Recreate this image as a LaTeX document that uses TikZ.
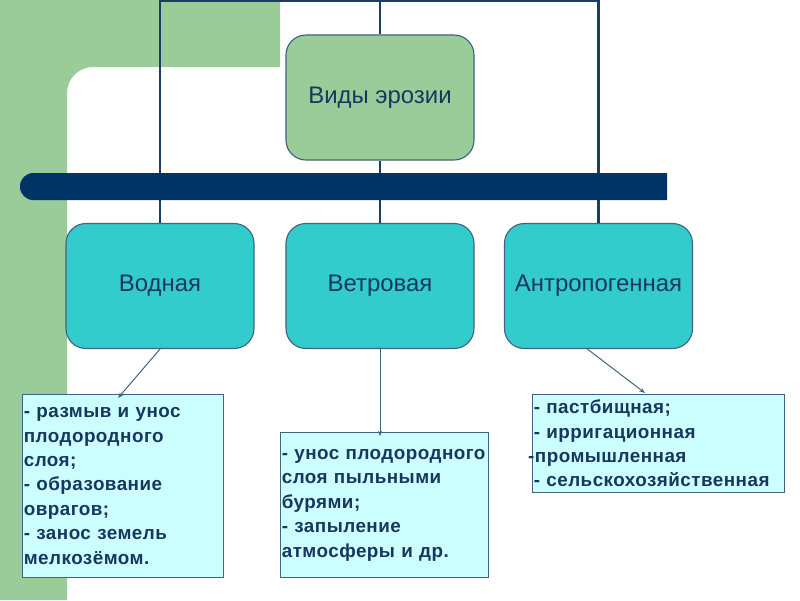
\documentclass[tikz,border=0pt]{standalone}
\usepackage{fontspec}
\setmainfont{Liberation Sans}
\usetikzlibrary{arrows.meta,calc,positioning}
\definecolor{cbar}{RGB}{0,51,102}
\definecolor{cline}{RGB}{28,60,105}
\definecolor{ctext}{RGB}{23,55,94}
\definecolor{cgreen}{RGB}{153,204,153}
\definecolor{cteal}{RGB}{51,204,204}
\definecolor{ccyan}{RGB}{204,255,255}
\definecolor{cedge}{RGB}{64,100,125}
\tikzset{
  topbox/.style={rectangle,rounded corners=0.5cm,fill=cgreen,draw=cedge,
    line width=0.8pt,minimum width=4.7cm,minimum height=3.125cm,
    align=center,text=ctext,font=\fontsize{17}{20}\selectfont},
  kindbox/.style={topbox,fill=cteal},
  % text boxes under the three kinds
  notebox/.style={rectangle,fill=ccyan,draw=cedge,line width=0.6pt,
    align=left,inner xsep=1pt,inner ysep=0pt,text=ctext,
    font=\bfseries\fontsize{13.4}{17.4}\selectfont\addfontfeature{LetterSpace=2.5}},
  link/.style={cline,line width=1.6pt},
  arr/.style={-{Stealth[length=4pt,width=3pt]},cedge,line width=0.7pt}
}

\begin{document}
\begin{tikzpicture}[x=0.025cm,y=-0.025cm]
  \useasboundingbox (0,0) rectangle (800,600);
  % slide background
  \fill[cgreen] (0,0) -- (280,0) -- (280,67) [rounded corners=0.65cm] -- (67,67)
    [sharp corners] -- (67,600) -- (0,600) -- cycle;

  \node[topbox] (root) at (380,97.5) {Виды эрозии};
  \node[kindbox] (vod) at (160,286) {Водная};
  \node[kindbox] (vet) at (380,286) {Ветровая};
  \node[kindbox] (ant) at (598.5,286) {Антропогенная};

  \coordinate (top) at (380,1.2);
  \draw[link] (vod.north) |- (top) -| (ant.north);
  \draw[link] (root.north) -- (top);
  \draw[link] (root.south) -- (vet.north);
  % thick bar across the tree
  \fill[cbar] (667,173) [rounded corners=0.33cm] -- (20,173) -- (20,200)
    [sharp corners] -- (667,200) -- cycle;

  \node[notebox,anchor=north west,text width=5.025cm-2pt,minimum height=4.575cm]
    (noteA) at (22,394) {- размыв и унос\\плодородного\\слоя;\\- образование\\оврагов;\\- занос земель\\мелкозёмом.};
  \node[notebox,anchor=north west,text width=5.2cm-2pt,minimum height=3.625cm]
    (noteB) at (280,432) {- унос плодородного\\слоя пыльными\\бурями;\\- запыление\\атмосферы и др.};
  \node[notebox,anchor=north west,text width=6.3cm-2pt,minimum height=2.45cm]
    (noteC) at (532,394) {- пастбищная;\\- ирригационная\\\hspace*{-4pt}-промышленная\\- сельскохозяйственная};

  \coordinate (tipA) at (118,398);
  \coordinate (tipC) at (645,393);
  \draw[arr] (vod.south) -- (tipA);
  \draw[arr,shorten >=-3pt] (vet.south) -- (vet.south |- noteB.north);
  \draw[arr] (ant.-100) -- (tipC);
\end{tikzpicture}
\end{document}
